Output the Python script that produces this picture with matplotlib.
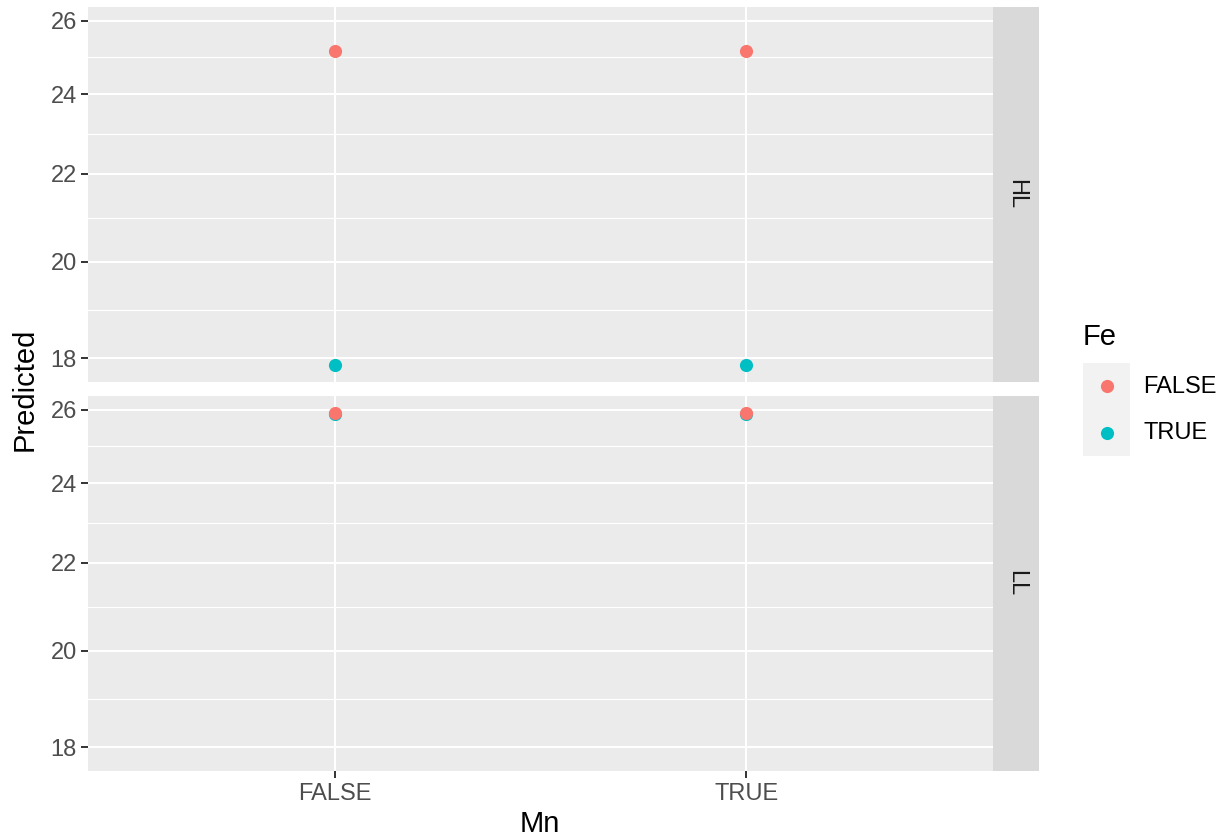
import matplotlib
matplotlib.use("Agg")
import matplotlib.pyplot as plt
import numpy as np

plt.rcParams["font.family"] = ["Liberation Sans", "DejaVu Sans"]

# data
mn_levels = ["FALSE", "TRUE"]
fe_levels = ["FALSE", "TRUE"]
panels = ["HL", "LL"]
pred_hl_fe_false = [25.15, 25.15]
pred_hl_fe_true = [17.87, 17.87]
pred_ll_fe_false = [25.90, 25.90]
pred_ll_fe_true = [25.88, 25.88]
y_breaks = [18, 20, 22, 24, 26]

colors = {"FALSE": "#F8766D", "TRUE": "#00BFC4"}
W, H = 1225, 839
small, big = 17, 21

fig = plt.figure(figsize=(W / 100, H / 100), dpi=100)
fig.patch.set_facecolor("white")


def fig_rect(x0, y0, x1, y1):
    # pixel box (top-left origin) -> figure fraction
    return [x0 / W, 1 - y1 / H, (x1 - x0) / W, (y1 - y0) / H]


# shared log y range with 5% expansion (ggplot style)
all_vals = np.log(pred_hl_fe_false + pred_hl_fe_true + pred_ll_fe_false + pred_ll_fe_true)
lo, hi = all_vals.min(), all_vals.max()
pad = (hi - lo) * 0.05
ylim = (np.exp(lo - pad), np.exp(hi + pad))
minor = [np.sqrt(a * b) for a, b in zip(y_breaks[:-1], y_breaks[1:])]

x = np.arange(1, len(mn_levels) + 1)
panel_data = {
    "HL": (pred_hl_fe_false, pred_hl_fe_true),
    "LL": (pred_ll_fe_false, pred_ll_fe_true),
}
boxes = {"HL": (7, 382), "LL": (396, 771)}

for i, name in enumerate(panels):
    y0, y1 = boxes[name]
    ax = fig.add_axes(fig_rect(88, y0, 993, y1))
    ax.set_facecolor("#EBEBEB")
    ax.set_yscale("log")
    ax.set_ylim(*ylim)
    ax.set_xlim(0.4, len(mn_levels) + 0.6)
    for m in minor:
        ax.axhline(m, color="white", lw=0.8, zorder=1)
    for b in y_breaks:
        ax.axhline(b, color="white", lw=1.5, zorder=1)
    for xv in x:
        ax.axvline(xv, color="white", lw=1.5, zorder=1)
    fe_false, fe_true = panel_data[name]
    ax.scatter(x, fe_true, s=90, color=colors["TRUE"], zorder=3, linewidths=0)
    ax.scatter(x, fe_false, s=90, color=colors["FALSE"], zorder=4, linewidths=0)

    ax.set_yticks(y_breaks)
    ax.set_yticklabels([str(b) for b in y_breaks])
    ax.yaxis.set_minor_locator(matplotlib.ticker.NullLocator())
    ax.tick_params(axis="y", length=5, width=1.4, color="#333333",
                   labelcolor="#4D4D4D", labelsize=small, pad=3)
    ax.set_xticks(x)
    if i == len(panels) - 1:
        ax.set_xticklabels(mn_levels)
        ax.tick_params(axis="x", length=5, width=1.4, color="#333333",
                       labelcolor="#4D4D4D", labelsize=small, pad=4)
    else:
        ax.tick_params(axis="x", length=0, labelbottom=False)
    for s in ax.spines.values():
        s.set_visible(False)

    # facet strip on the right
    sax = fig.add_axes(fig_rect(993, y0, 1039, y1))
    sax.set_facecolor("#D9D9D9")
    sax.set_xticks([])
    sax.set_yticks([])
    for s in sax.spines.values():
        s.set_visible(False)
    sax.text(0.5, 0.5, name, rotation=-90, ha="center", va="center",
             fontsize=small, color="#1A1A1A", transform=sax.transAxes)

# axis titles
fig.text(540 / W, 1 - 824 / H, "Mn", ha="center", va="center", fontsize=big, color="black")
fig.text(25 / W, 1 - 389 / H, "Predicted", ha="center", va="center",
         rotation=90, fontsize=big, color="black")

# legend
fig.text(1083 / W, 1 - 337 / H, "Fe", ha="left", va="center", fontsize=big, color="black")
kax = fig.add_axes(fig_rect(1083, 363, 1130, 456))
kax.set_facecolor("#F2F2F2")
kax.set_xlim(0, 1)
kax.set_ylim(0, 2)
kax.set_xticks([])
kax.set_yticks([])
for s in kax.spines.values():
    s.set_visible(False)
for j, lvl in enumerate(fe_levels):
    kax.scatter([0.5], [1.5 - j], s=90, color=colors[lvl], linewidths=0)
    fig.text(1143 / W, 1 - (387 + 46 * j) / H, lvl, ha="left", va="center",
             fontsize=small, color="black")

fig.savefig("out.png", dpi=100)
